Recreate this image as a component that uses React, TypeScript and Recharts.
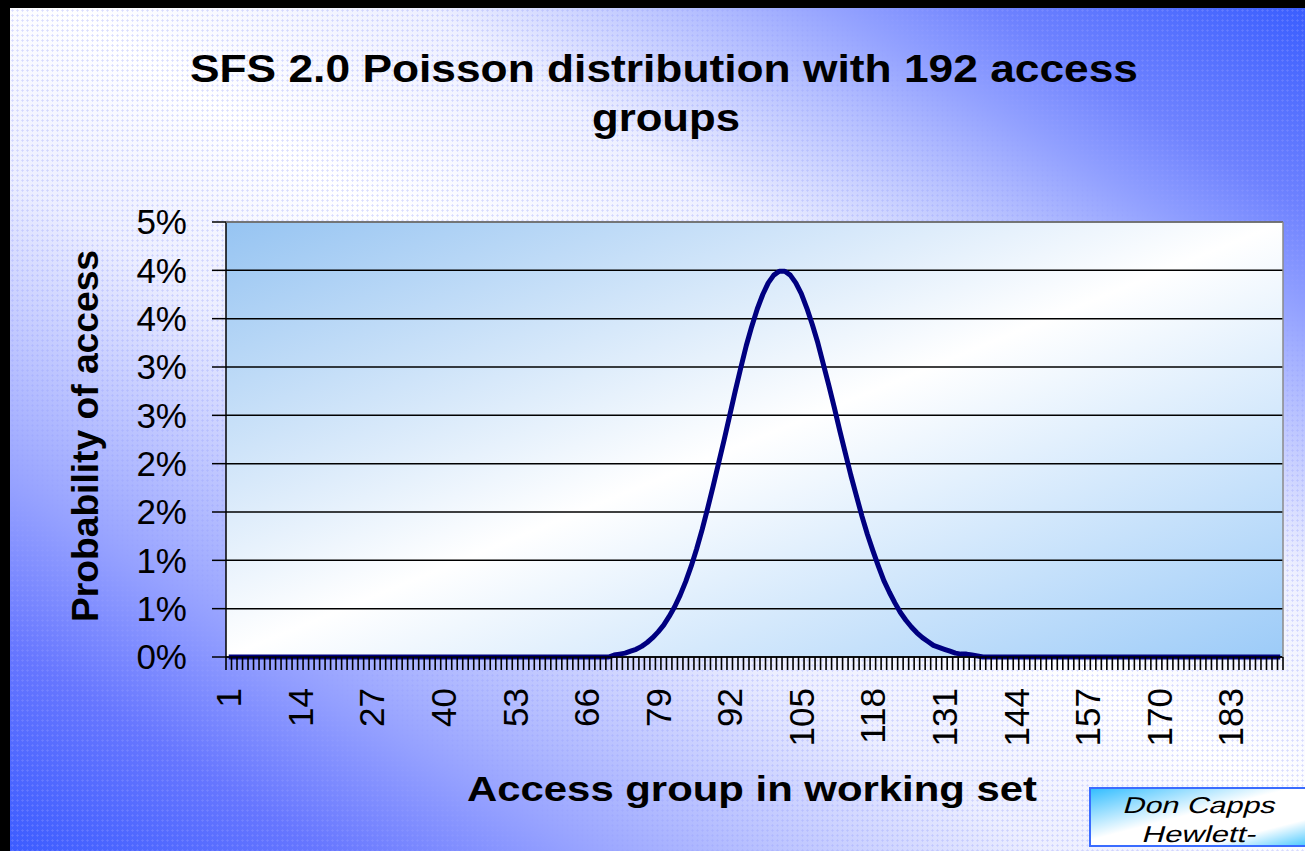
import React from "react";
import { CartesianGrid, Line, LineChart, XAxis, YAxis } from "recharts";

// access groups 1..192
const CATEGORIES: number[] = Array.from({ length: 192 }, (_, i) => i + 1);

// probability of access, in percent
const PROB: number[] = [
  // 1-70
  0, 0, 0, 0, 0, 0, 0, 0, 0, 0,
  0, 0, 0, 0, 0, 0, 0, 0, 0, 0,
  0, 0, 0, 0, 0, 0, 0, 0, 0, 0,
  0, 0, 0, 0, 0, 0, 0, 0, 0, 0,
  0, 0, 0, 0, 0, 0, 0, 0, 0, 0,
  0, 0, 0, 0, 0, 0, 0, 0, 0, 0,
  0, 0, 0, 0, 0, 0, 0, 0, 0, 0,
  // 71-80
  0.02, 0.03, 0.04, 0.06, 0.08, 0.11, 0.15, 0.2, 0.26, 0.33,
  // 81-90
  0.42, 0.52, 0.64, 0.78, 0.94, 1.12, 1.32, 1.54, 1.77, 2.01,
  // 91-100
  2.25, 2.5, 2.75, 2.99, 3.22, 3.42, 3.6, 3.75, 3.87, 3.95,
  // 101-110
  3.99, 3.99, 3.95, 3.87, 3.76, 3.61, 3.44, 3.25, 3.03, 2.81,
  // 111-120
  2.58, 2.34, 2.11, 1.88, 1.67, 1.46, 1.27, 1.1, 0.94, 0.79,
  // 121-130
  0.67, 0.56, 0.46, 0.38, 0.31, 0.25, 0.2, 0.16, 0.12, 0.1,
  // 131-137
  0.08, 0.06, 0.04, 0.03, 0.03, 0.02, 0.01,
  // 138-192
  0, 0, 0, 0, 0, 0, 0, 0, 0, 0,
  0, 0, 0, 0, 0, 0, 0, 0, 0, 0,
  0, 0, 0, 0, 0, 0, 0, 0, 0, 0,
  0, 0, 0, 0, 0, 0, 0, 0, 0, 0,
  0, 0, 0, 0, 0, 0, 0, 0, 0, 0,
  0, 0, 0, 0, 0,
];

const Y_TICKS = [0, 0.5, 1, 1.5, 2, 2.5, 3, 3.5, 4, 4.5];
// Excel rounded the half-percent steps to whole percents
const Y_TICK_LABELS = ["0%", "1%", "1%", "2%", "2%", "3%", "3%", "4%", "4%", "5%"];
const X_LABEL_EVERY = 13;

const TITLE_1 = "SFS 2.0 Poisson distribution with 192 access";
const TITLE_2 = "groups";
const X_TITLE = "Access group in working set";
const Y_TITLE = "Probability of access";
const NOTE_1 = "Don Capps";
const NOTE_2 = "Hewlett-";

const W = 1305;
const H = 851;
const PLOT_L = 226;
const PLOT_R = 1283;
const PLOT_T = 222;
const PLOT_B = 657;
const BAND = (PLOT_R - PLOT_L) / CATEGORIES.length;
const FONT = "'Liberation Sans', Arial, sans-serif";

const data = CATEGORIES.map((g, i) => ({ g, p: PROB[i] }));

function XTick(props: any) {
  const { x, y, payload, index } = props;
  const last = index === CATEGORIES.length - 1;
  const ly = y + 31;
  return (
    <g>
      <line x1={x - BAND / 2} x2={x - BAND / 2} y1={y} y2={y + 13} stroke="#000" strokeWidth={1.6} />
      {last && (
        <line x1={x + BAND / 2} x2={x + BAND / 2} y1={y} y2={y + 13} stroke="#000" strokeWidth={1.6} />
      )}
      {index % X_LABEL_EVERY === 0 && (
        <text
          x={x}
          y={ly}
          dy="0.36em"
          transform={`rotate(-90 ${x} ${ly})`}
          textAnchor="end"
          fontSize={35}
          fontFamily={FONT}
          fill="#000"
        >
          {payload.value}
        </text>
      )}
    </g>
  );
}

export default function App() {
  return (
    <div
      style={{
        position: "absolute",
        left: 0,
        top: 0,
        width: W,
        height: H,
        overflow: "hidden",
        background: "#000",
      }}
    >
      <div
        style={{
          position: "absolute",
          left: 10,
          top: 8,
          right: 0,
          bottom: 0,
          backgroundImage:
            "radial-gradient(circle, rgba(150,160,255,0.35) 0.9px, transparent 1.3px), linear-gradient(to top right, #3c5cff 0%, #6676ff 12%, #aab4ff 26%, #eceeff 40%, #ffffff 52%, #eef0ff 66%, #b6c0ff 76%, #6e82ff 88%, #3a5eff 100%)",
          backgroundSize: "5px 5px, 100% 100%",
        }}
      />
      <LineChart
        width={W}
        height={H}
        data={data}
        margin={{ top: PLOT_T, right: W - PLOT_R, bottom: H - PLOT_B - 100, left: 0 }}
        style={{ position: "absolute", left: 0, top: 0 }}
      >
        <defs>
          <linearGradient id="plotBg" x1="0" y1="0" x2="1" y2="1">
            <stop offset="0%" stopColor="#96c4f2" />
            <stop offset="50%" stopColor="#ffffff" />
            <stop offset="100%" stopColor="#9ccbf8" />
          </linearGradient>
        </defs>
        <CartesianGrid vertical={false} stroke="#000" strokeWidth={1.5} fill="url(#plotBg)" fillOpacity={1} />
        <XAxis
          dataKey="g"
          type="category"
          interval={0}
          height={100}
          padding={{ left: BAND / 2, right: BAND / 2 }}
          tickLine={false}
          tickSize={0}
          tickMargin={0}
          tick={<XTick />}
          axisLine={{ stroke: "#000", strokeWidth: 1.5 }}
        />
        <YAxis
          width={PLOT_L}
          domain={[0, 4.5]}
          ticks={Y_TICKS}
          interval={0}
          tickFormatter={(_v: number, i: number) => Y_TICK_LABELS[i]}
          tickSize={14}
          tickMargin={25}
          tickLine={{ stroke: "#000", strokeWidth: 1.5 }}
          axisLine={{ stroke: "#000", strokeWidth: 1.5 }}
          tick={{ fill: "#000", fontSize: 35, fontFamily: FONT }}
        />
        <Line
          dataKey="p"
          type="linear"
          stroke="#000080"
          strokeWidth={5}
          strokeLinejoin="round"
          dot={false}
          activeDot={false}
          isAnimationActive={false}
        />
      </LineChart>
      <svg
        width={W}
        height={H}
        style={{ position: "absolute", left: 0, top: 0, pointerEvents: "none" }}
        fontFamily={FONT}
      >
        <defs>
          <linearGradient id="noteBg" x1="0" y1="0" x2="1" y2="1">
            <stop offset="0%" stopColor="#2fbcff" />
            <stop offset="45%" stopColor="#ffffff" />
            <stop offset="75%" stopColor="#ffffff" />
            <stop offset="100%" stopColor="#3cc4ff" />
          </linearGradient>
        </defs>
        <line x1={PLOT_L} x2={PLOT_R} y1={PLOT_T} y2={PLOT_T} stroke="#8a8a8a" strokeWidth={1.5} />
        <line x1={PLOT_R} x2={PLOT_R} y1={PLOT_T} y2={PLOT_B} stroke="#8a8a8a" strokeWidth={1.5} />
        <text x={190} y={82} fontSize={39} fontWeight="bold" textLength={948} lengthAdjust="spacingAndGlyphs">
          {TITLE_1}
        </text>
        <text x={592} y={131} fontSize={39} fontWeight="bold" textLength={148} lengthAdjust="spacingAndGlyphs">
          {TITLE_2}
        </text>
        <text x={467} y={801} fontSize={35} fontWeight="bold" textLength={570} lengthAdjust="spacingAndGlyphs">
          {X_TITLE}
        </text>
        <text
          x={98}
          y={622}
          transform="rotate(-90 98 622)"
          fontSize={37}
          fontWeight="bold"
          textLength={372}
          lengthAdjust="spacingAndGlyphs"
        >
          {Y_TITLE}
        </text>
        <rect x={1090} y={788} width={225} height={58} fill="url(#noteBg)" stroke="#3a6cff" strokeWidth={2} />
        <g transform="translate(1122 813) skewX(-16)">
          <text x={0} y={0} fontSize={23} textLength={152} lengthAdjust="spacingAndGlyphs">
            {NOTE_1}
          </text>
        </g>
        <g transform="translate(1141 842) skewX(-16)">
          <text x={0} y={0} fontSize={23} textLength={114} lengthAdjust="spacingAndGlyphs">
            {NOTE_2}
          </text>
        </g>
      </svg>
    </div>
  );
}
